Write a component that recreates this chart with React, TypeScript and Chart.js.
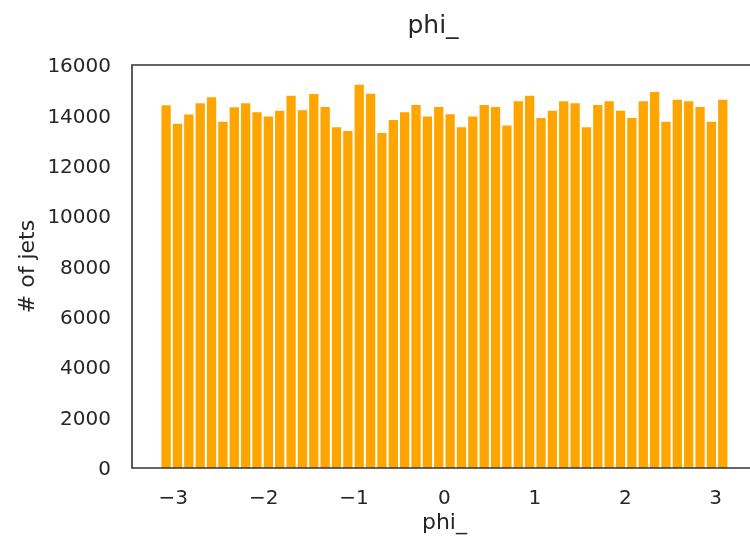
import React, { useEffect, useRef } from "react";
import { Chart, registerables } from "chart.js";

Chart.register(...registerables);

// Histogram definition (phi from -pi to pi, 50 bins)
const PHI_MIN = -Math.PI;
const PHI_MAX = Math.PI;
const N_BINS = 50;

// Counts per bin (# of jets)
const counts: number[] = [
  14400, 13670, 14030, 14480, 14715, 13750, 14320, 14480, 14120, 13960,
  14185, 14780, 14200, 14850, 14330, 13525, 13380, 15220, 14860, 13300,
  13815, 14120, 14410, 13960, 14330, 14040, 13525, 13960, 14410, 14330,
  13600, 14560, 14780, 13895, 14185, 14560, 14480, 13525, 14410, 14560,
  14185, 13895, 14560, 14930, 13750, 14620, 14560, 14330, 13750, 14620,
];

const binWidth = (PHI_MAX - PHI_MIN) / N_BINS;
const binCenters: number[] = counts.map((_, i) => PHI_MIN + binWidth * (i + 0.5));

const xTicks: number[] = [-3, -2, -1, 0, 1, 2, 3];
const yTicks: number[] = [0, 2000, 4000, 6000, 8000, 10000, 12000, 14000, 16000];

const TITLE = "phi_";
const X_LABEL = "phi_";
const Y_LABEL = "# of jets";

const TEXT_COLOR = "#262626";
const FONT = "'DejaVu Sans', sans-serif";

const framePlugin = {
  id: "frameAndLabels",
  afterDraw(chart: any) {
    const { ctx, chartArea } = chart;
    const xs = chart.scales.x;
    const { left, top, bottom, right } = chartArea;
    ctx.save();
    ctx.strokeStyle = "#333333";
    ctx.lineWidth = 1.6;
    ctx.beginPath();
    ctx.moveTo(right + 5, top);
    ctx.lineTo(left, top);
    ctx.lineTo(left, bottom);
    ctx.lineTo(right + 5, bottom);
    ctx.stroke();

    const cx = xs.getPixelForValue(0);
    ctx.fillStyle = TEXT_COLOR;
    ctx.textAlign = "center";
    ctx.textBaseline = "alphabetic";
    ctx.font = `25px ${FONT}`;
    ctx.fillText(TITLE, 433, 33);
    ctx.textBaseline = "middle";
    ctx.font = `22px ${FONT}`;
    ctx.fillText(X_LABEL, cx, 523);
    ctx.translate(28, (top + bottom) / 2);
    ctx.rotate(-Math.PI / 2);
    ctx.fillText(Y_LABEL, 0, 0);
    ctx.restore();
  },
};

export default function App() {
  const ref = useRef<HTMLCanvasElement | null>(null);

  useEffect(() => {
    if (!ref.current) return;
    const chart = new Chart(ref.current, {
      type: "bar",
      data: {
        datasets: [
          {
            data: binCenters.map((x, i) => ({ x, y: counts[i] })),
            backgroundColor: "#FFA500",
            borderWidth: 0,
            barPercentage: 0.82,
            categoryPercentage: 1,
          },
        ],
      },
      options: {
        animation: false,
        responsive: false,
        layout: { padding: { left: 0, top: 65, right: 0, bottom: 0 } },
        plugins: {
          legend: { display: false },
          tooltip: { enabled: false },
          title: { display: false },
        },
        scales: {
          x: {
            type: "linear",
            min: -3.456,
            max: 3.38,
            offset: false,
            grid: { display: false, drawTicks: false },
            border: { display: false },
            afterFit: (s: any) => {
              s.height = 73;
            },
            afterBuildTicks: (s: any) => {
              s.ticks = xTicks.map((v) => ({ value: v }));
            },
            ticks: {
              padding: 19,
              color: TEXT_COLOR,
              font: { family: FONT, size: 20 },
              maxRotation: 0,
              callback: (v: any) => (v < 0 ? "\u2212" + Math.abs(v) : String(v)),
            },
          },
          y: {
            type: "linear",
            min: 0,
            max: 16000,
            grid: { display: false, drawTicks: false },
            border: { display: false },
            afterFit: (s: any) => {
              s.width = 132;
            },
            afterBuildTicks: (s: any) => {
              s.ticks = yTicks.map((v) => ({ value: v }));
            },
            ticks: {
              padding: 21,
              labelOffset: 2,
              color: TEXT_COLOR,
              font: { family: FONT, size: 20 },
              callback: (v: any) => String(v),
            },
          },
        },
      },
      plugins: [framePlugin],
    });
    return () => chart.destroy();
  }, []);

  return (
    <canvas
      ref={ref}
      width={750}
      height={541}
      style={{ position: "absolute", left: 0, top: 0, width: 750, height: 541 }}
    />
  );
}
